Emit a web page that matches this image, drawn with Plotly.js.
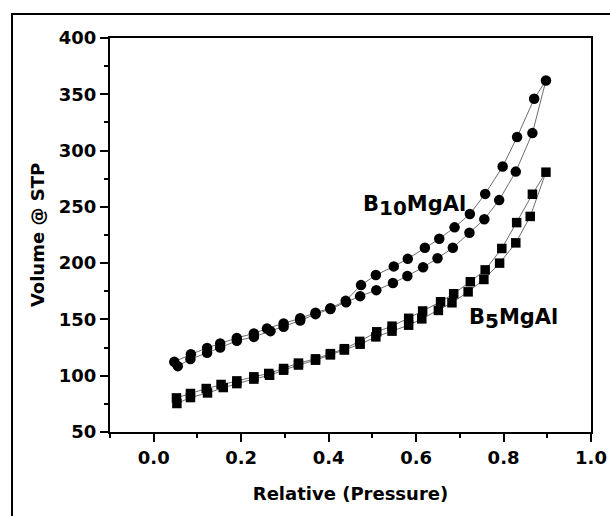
<!DOCTYPE html>
<html>
<head>
<meta charset="utf-8">
<script src="https://cdn.plot.ly/plotly-3.0.1.min.js"></script>
<style>
  html, body { margin: 0; padding: 0; background: #ffffff; }
  #chart { width: 610px; height: 516px; }
</style>
</head>
<body>
<div id="chart"></div>
<script>
// ---- Data ----
// B10MgAl: adsorption branch (lower) and desorption branch (upper)
const b10AdsX = [0.055, 0.084, 0.122, 0.152, 0.190, 0.229, 0.267, 0.297, 0.335, 0.370, 0.404, 0.440, 0.472, 0.509, 0.547, 0.580, 0.616, 0.649, 0.684, 0.722, 0.756, 0.790, 0.828, 0.866, 0.897];
const b10AdsY = [108.5, 114.8, 120.3, 125.0, 131.0, 134.5, 139.6, 143.4, 149.0, 154.7, 159.3, 165.3, 170.7, 176.0, 182.3, 188.6, 196.3, 204.3, 213.6, 227.0, 239.0, 256.0, 281.3, 315.5, 362.3];
const b10DesX = [0.870, 0.831, 0.798, 0.758, 0.723, 0.688, 0.653, 0.620, 0.581, 0.549, 0.508, 0.474, 0.439, 0.404, 0.370, 0.335, 0.297, 0.259, 0.229, 0.190, 0.152, 0.122, 0.085, 0.047];
const b10DesY = [346.0, 312.0, 285.8, 261.5, 243.6, 231.8, 221.6, 213.6, 203.8, 197.1, 189.4, 180.5, 166.5, 160.0, 156.0, 151.0, 146.4, 142.0, 137.5, 133.6, 128.6, 124.7, 119.0, 112.3];

// B5MgAl: adsorption branch (lower) and desorption branch (upper)
const b5AdsX = [0.053, 0.084, 0.123, 0.159, 0.190, 0.229, 0.265, 0.297, 0.331, 0.370, 0.404, 0.436, 0.472, 0.508, 0.545, 0.583, 0.613, 0.651, 0.682, 0.719, 0.755, 0.791, 0.828, 0.861, 0.897];
const b5AdsY = [75.3, 80.6, 84.7, 89.5, 93.0, 97.0, 100.4, 104.9, 109.5, 113.8, 118.5, 122.8, 128.0, 134.5, 139.6, 144.9, 150.5, 158.0, 164.8, 174.5, 185.5, 200.0, 218.0, 241.5, 280.8];
const b5DesX = [0.866, 0.830, 0.796, 0.758, 0.724, 0.686, 0.656, 0.615, 0.583, 0.545, 0.510, 0.471, 0.436, 0.404, 0.370, 0.331, 0.297, 0.263, 0.229, 0.190, 0.154, 0.120, 0.084, 0.052];
const b5DesY = [261.2, 236.0, 213.0, 194.0, 183.5, 172.8, 165.7, 157.5, 151.0, 144.0, 139.0, 130.5, 124.0, 119.6, 115.0, 111.2, 106.4, 102.0, 99.0, 95.4, 92.2, 88.6, 84.2, 80.3];

const seriesNames = ['B<sub>10</sub>MgAl', 'B<sub>5</sub>MgAl'];
const xTitle = 'Relative (Pressure)';
const yTitle = 'Volume @ STP';

// ---- Styling ----
const FONT = 'DejaVu Sans, Arial, sans-serif';
const lineStyle = { color: '#6e6e6e', width: 1 };

const traces = [
  {
    name: seriesNames[0],
    x: b10AdsX.concat(b10DesX),
    y: b10AdsY.concat(b10DesY),
    mode: 'lines+markers',
    line: lineStyle,
    marker: { symbol: 'circle', size: 10.5, color: '#000000' },
    showlegend: false,
    hoverinfo: 'x+y+name'
  },
  {
    name: seriesNames[1],
    x: b5AdsX.concat(b5DesX),
    y: b5AdsY.concat(b5DesY),
    mode: 'lines+markers',
    line: lineStyle,
    marker: { symbol: 'square', size: 9.5, color: '#000000' },
    showlegend: false,
    hoverinfo: 'x+y+name'
  }
];

const tickFont = { family: FONT, size: 18, weight: 'bold', color: '#000000' };
const titleFont = { family: FONT, size: 18, weight: 'bold', color: '#000000' };
const labelFont = { family: FONT, size: 21, weight: 'bold', color: '#000000' };

const layout = {
  width: 610,
  height: 516,
  margin: { l: 110, r: 19, t: 38, b: 84 },
  paper_bgcolor: '#ffffff',
  plot_bgcolor: '#ffffff',
  showlegend: false,
  xaxis: {
    range: [-0.1, 1.0],
    tickmode: 'linear', tick0: 0, dtick: 0.2,
    tickformat: '.1f',
    ticks: 'outside', ticklen: 8, tickwidth: 2, tickcolor: '#000000',
    showline: true, linewidth: 2, linecolor: '#000000', mirror: true,
    showgrid: false, zeroline: false,
    tickfont: tickFont,
    minor: { tick0: 0, dtick: 0.1, ticks: 'outside', ticklen: 4, tickwidth: 2, tickcolor: '#000000', showgrid: false },
    title: { text: xTitle, font: titleFont, standoff: 21 }
  },
  yaxis: {
    range: [50, 400],
    tickmode: 'linear', tick0: 50, dtick: 50,
    ticks: 'outside', ticklen: 8, tickwidth: 2, tickcolor: '#000000',
    showline: true, linewidth: 2, linecolor: '#000000', mirror: true,
    showgrid: false, zeroline: false,
    tickfont: tickFont,
    minor: { tick0: 25, dtick: 25, ticks: 'outside', ticklen: 4, tickwidth: 2, tickcolor: '#000000', showgrid: false },
    title: { text: yTitle, font: titleFont, standoff: 10 }
  },
  annotations: [
    {
      text: 'B<sub><span style="font-size:20px">10</span></sub>MgAl',
      x: 0.475, y: 251, xref: 'x', yref: 'y',
      xanchor: 'left', yanchor: 'middle', showarrow: false,
      font: labelFont
    },
    {
      text: 'B<sub><span style="font-size:20px">5</span></sub>MgAl',
      x: 0.716, y: 150, xref: 'x', yref: 'y',
      xanchor: 'left', yanchor: 'middle', showarrow: false,
      font: labelFont
    }
  ],
  shapes: [
    {
      type: 'rect', xref: 'paper', yref: 'paper',
      x0: -0.2037, x1: 1.1, y0: -0.3, y1: 1.061,
      line: { color: '#000000', width: 2 }, fillcolor: 'rgba(0,0,0,0)', layer: 'above'
    }
  ]
};

Plotly.newPlot('chart', traces, layout, { displayModeBar: false, staticPlot: true });
</script>
</body>
</html>
